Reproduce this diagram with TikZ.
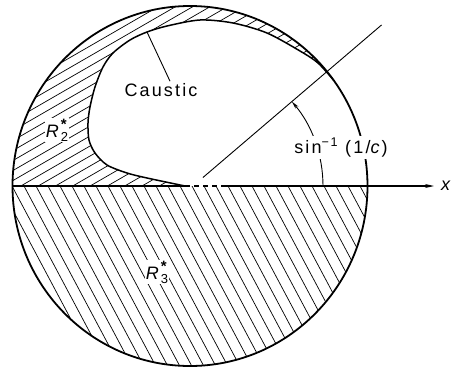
\documentclass[tikz,border=0pt]{standalone}
\usepackage{fontspec}
\setmainfont{Liberation Sans}
\usetikzlibrary{arrows.meta}
\newcommand\Rlab[1]{\textit{R}\raisebox{-4pt}{\fontsize{13}{13}\selectfont\shortstack[l]{\fontsize{15}{15}\selectfont\bfseries *\\#1}}}
\tikzset{
  rim/.style={line width=1.8pt},
  causline/.style={line width=1.5pt},
  hatchline/.style={line width=0.7pt},
  rayline/.style={line width=0.9pt},
  axisline/.style={line width=1.1pt},
  lab/.style={font=\fontsize{18}{20}\selectfont\addfontfeatures{LetterSpace=12}, inner sep=2pt},
  labw/.style={lab, fill=white},
}
\begin{document}
\begin{tikzpicture}[x=1pt,y=1pt]
\useasboundingbox (0,0) rectangle (452,368);
\coordinate (C) at (190,182);
\coordinate (O) at (193,182);
% R3 hatching
\begin{scope}
  \clip (C) ellipse [x radius=177.5pt, y radius=180pt];
  \clip (0,0) rectangle (452,182);
  \foreach \k in {-8,...,31}
    \draw[hatchline] (\k*12-30, 238.4) -- (\k*12+120, -43.6);
\end{scope}
% R2 hatching
\begin{scope}
  \clip plot[smooth] coordinates {(185,182) (147,190) (127,195) (107,203) (95,215) (89,228) (88,245) (90,261) (95,281) (103,301) (113,315) (130,328) (147,336) (167,342) (200,348) (233,345) (267,335) (300,317) (318,305) (333.6,287.8)}
    arc[start angle=36, end angle=180, x radius=177.5pt, y radius=180pt] -- cycle;
  \foreach \b in {-10,0,...,360}
    \draw[hatchline] (0,\b) -- (452,\b+261);
\end{scope}
% caustic
\draw[causline] plot[smooth] coordinates {(185,182) (147,190) (127,195) (107,203) (95,215) (89,228) (88,245) (90,261) (95,281) (103,301) (113,315) (130,328) (147,336) (167,342) (200,348) (233,345) (267,335) (300,317) (318,305) (333.6,287.8)};
% circle
\draw[rim] (C) ellipse [x radius=177.5pt, y radius=180pt];
% axis
\coordinate (L) at (12.5,182);
\coordinate (cusp) at (185,182);
\coordinate (D) at (224,182);
\coordinate (E) at (434,182);
\draw[axisline] (L) -- (cusp);
\draw[axisline, dash pattern=on 5pt off 4pt] (cusp) -- (D);
\draw[axisline, -{Stealth[length=9pt,width=4pt]}] (D) -- (E);
\node[anchor=west, inner sep=0pt, font=\fontsize{18}{20}\selectfont\itshape] (xl) at (441,182) {x};
% ray
\coordinate (R0) at ([shift={(40.5:13pt)}]O);
\coordinate (R1) at ([shift={(40.5:248pt)}]O);
\draw[rayline] (R0) -- (R1);
\coordinate (A0) at ([shift={(0:130pt)}]O);
\draw[rayline, -{Stealth[length=8pt,width=3.5pt]}] (A0) arc[start angle=0, end angle=40.5, radius=130pt];
% labels
\node[labw, anchor=base] (ang) at (341,215) {sin\textsuperscript{−1} (1/\textit{c})};
\node[lab] (cl) at (161,278) {Caustic};
\coordinate (cp) at (147,336);
\draw[rayline] ([xshift=9pt]cl.north) -- (cp);
\node[labw, inner sep=1pt] (r2) at (57,238) {\Rlab{2}};
\node[labw, inner sep=1pt] (r3) at (157,96) {\Rlab{3}};
\end{tikzpicture}
\end{document}
